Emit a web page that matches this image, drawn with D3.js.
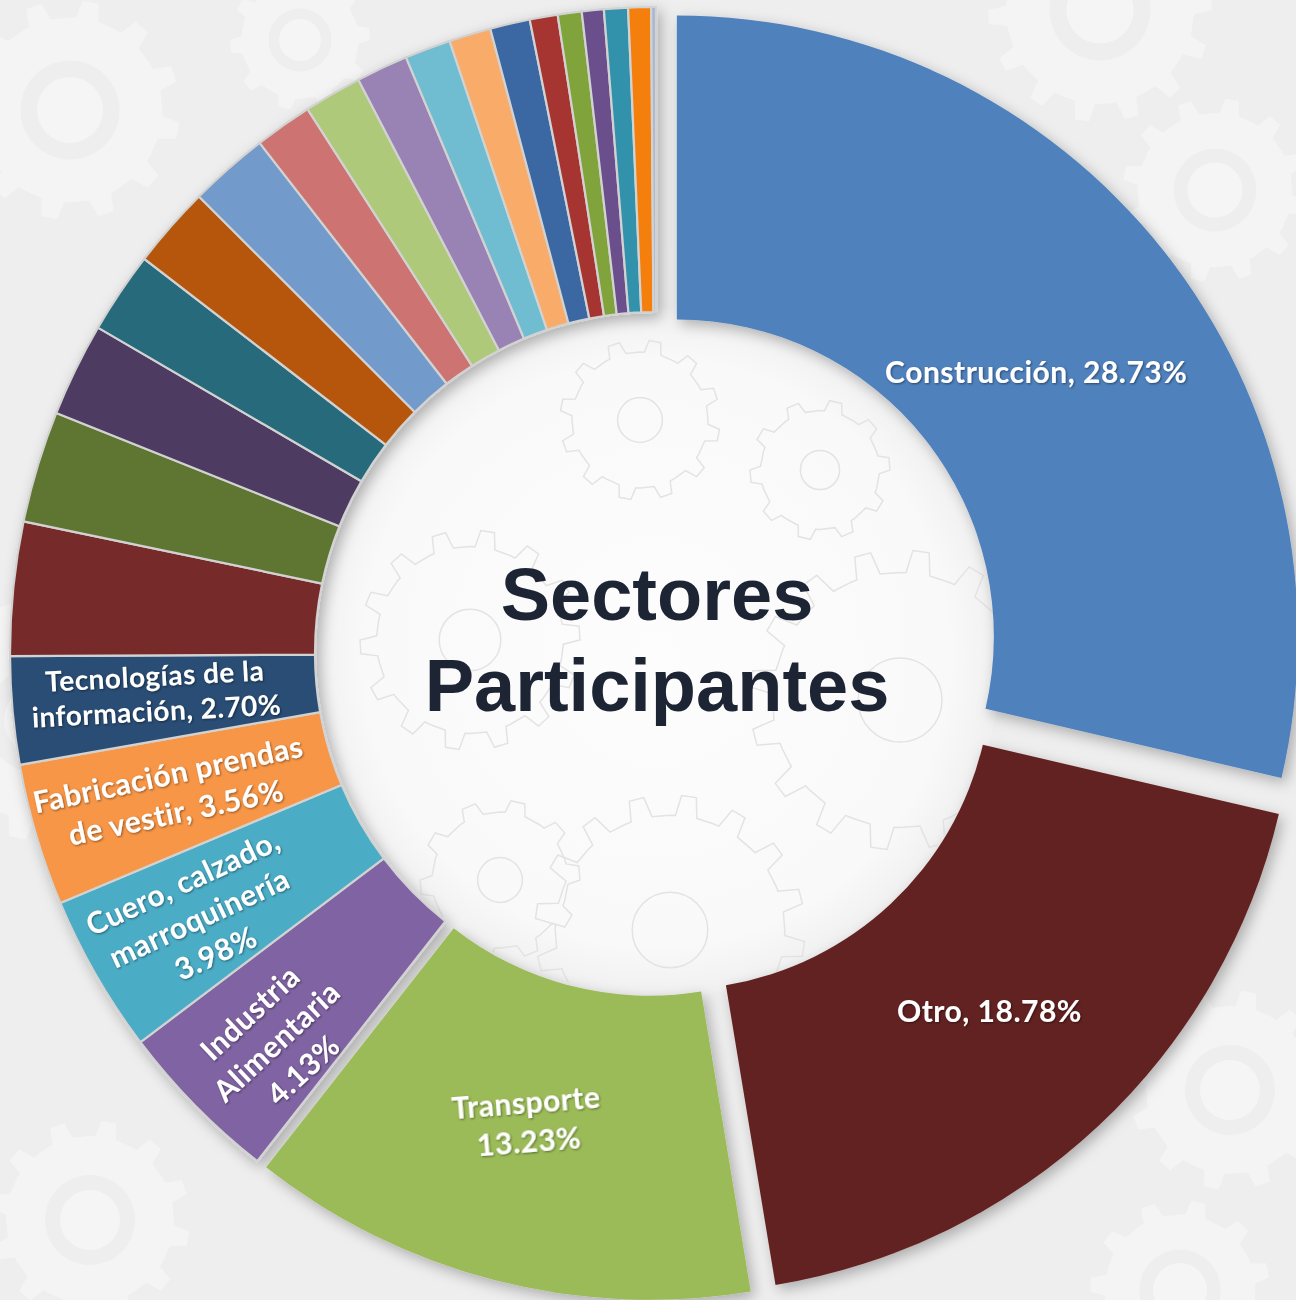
<!DOCTYPE html>
<html>
<head>
<meta charset="utf-8">
<script src="https://cdn.jsdelivr.net/npm/d3@7"></script>
<style>
  html, body { margin: 0; padding: 0; background: #eeeeee; }
  svg { display: block; }
</style>
</head>
<body>
<svg id="chart" width="1296" height="1300"></svg>
<script>
// ---- data -------------------------------------------------------------
const sectors = [
  "Construcción", "Otro", "Transporte", "Industria Alimentaria",
  "Cuero, calzado, marroquinería", "Fabricación prendas de vestir",
  "Tecnologías de la información",
  "Sector 8", "Sector 9", "Sector 10", "Sector 11", "Sector 12", "Sector 13",
  "Sector 14", "Sector 15", "Sector 16", "Sector 17", "Sector 18", "Sector 19",
  "Sector 20", "Sector 21", "Sector 22", "Sector 23", "Sector 24", "Sector 25"
];
const shares = [
  28.73, 18.78, 13.23, 4.13, 3.98, 3.56, 2.70,
  3.35, 2.80, 2.35, 2.05, 2.05, 2.00,
  1.45, 1.45, 1.30, 1.15, 1.05, 1.00,
  0.70, 0.60, 0.55, 0.60, 0.57, 0.12
];
const sliceColors = [
  "#4f81bd", "#632423", "#9bbb59", "#8064a2", "#4bacc6", "#f79646",
  "#2c4d75", "#772c2a", "#5f7530", "#4d3b62", "#276a7c", "#b65708",
  "#729aca", "#cd7371", "#afc97a", "#9983b5", "#6fbdd1", "#f9ab6b",
  "#3a67a3", "#a63533", "#80a33a", "#6b4f8c", "#3392ab", "#f57f10",
  "#a8b8cf"
];
const explodedSectors = ["Construcción", "Otro", "Transporte"];
const labelledSectors = [
  "Construcción", "Otro", "Transporte", "Industria Alimentaria",
  "Cuero, calzado, marroquinería", "Fabricación prendas de vestir",
  "Tecnologías de la información"
];
const centerTitle = ["Sectores", "Participantes"];

// ---- layout -----------------------------------------------------------
const W = 1296, H = 1300;
const cx = 656, cy = 653;
const ring = { outer: 646, inner: 341 };                   // regular slices
const ringOut = { outer: 621, inner: 317, offset: 26.6 };  // pulled-out slices

// label placement: radius from slice centre, angular shift (deg), rotation (deg),
// word index after which the name wraps, whether the value gets its own line,
// font size and line step
const labelLayout = {
  "Construcción":                   { r: 446, shift: 2.1,  rot: 0,    wrap: [],  own: false, size: 30, step: 39 },
  "Otro":                           { r: 463, shift: 0.2,  rot: 0,    wrap: [],  own: false, size: 30, step: 39 },
  "Transporte":                     { r: 460, shift: 1.0,  rot: -4.5, wrap: [],  own: true,  size: 30, step: 39 },
  "Industria Alimentaria":          { r: 543, shift: -1.2, rot: -43,  wrap: [1], own: true,  size: 30, step: 39 },
  "Cuero, calzado, marroquinería":  { r: 528, shift: -0.2, rot: -25,  wrap: [2], own: true,  size: 30, step: 39 },
  "Fabricación prendas de vestir":  { r: 504, shift: 0.2,  rot: -12,  wrap: [2], own: false, size: 30, step: 39 },
  "Tecnologías de la información":  { r: 502, shift: 0.5,  rot: -3,   wrap: [3], own: false, size: 28, step: 35 }
};

// ---- svg --------------------------------------------------------------
const svg = d3.select("#chart");
const defs = svg.append("defs");

const ringShadow = defs.append("filter").attr("id", "ringShadow")
  .attr("x", "-20%").attr("y", "-20%").attr("width", "140%").attr("height", "140%");
ringShadow.append("feDropShadow")
  .attr("dx", 4).attr("dy", 5).attr("stdDeviation", 7)
  .attr("flood-color", "#000").attr("flood-opacity", 0.28);

const textShadow = defs.append("filter").attr("id", "textShadow")
  .attr("x", "-10%").attr("y", "-30%").attr("width", "120%").attr("height", "160%");
textShadow.append("feDropShadow")
  .attr("dx", 1).attr("dy", 1).attr("stdDeviation", 0.8)
  .attr("flood-color", "#000").attr("flood-opacity", 0.45);

const holeGrad = defs.append("radialGradient").attr("id", "holeGrad");
holeGrad.append("stop").attr("offset", "0%").attr("stop-color", "#fdfdfd");
holeGrad.append("stop").attr("offset", "85%").attr("stop-color", "#f9f9f9");
holeGrad.append("stop").attr("offset", "100%").attr("stop-color", "#f0f0f0");

defs.append("clipPath").attr("id", "holeClip")
  .append("circle").attr("cx", cx).attr("cy", cy).attr("r", ring.inner);

svg.append("rect").attr("width", W).attr("height", H).attr("fill", "#eeeeee");

// decorative gear pattern in the background
function gearPath(r, teeth, depth) {
  const pts = [];
  const step = 2 * Math.PI / teeth;
  for (let i = 0; i < teeth; i++) {
    const a = i * step;
    pts.push([a, r - depth]);
    pts.push([a + step * 0.12, r - depth]);
    pts.push([a + step * 0.22, r]);
    pts.push([a + step * 0.50, r]);
    pts.push([a + step * 0.60, r - depth]);
  }
  return d3.lineRadial().curve(d3.curveLinearClosed)(pts);
}
const gearsOut = [
  [1100, 10, 112, 14], [1215, 190, 92, 12], [70, 110, 110, 12],
  [40, 720, 120, 12], [1230, 1090, 100, 12], [1180, 1290, 90, 11],
  [90, 1220, 100, 12], [300, 40, 70, 10]
];
const gOut = svg.append("g");
gearsOut.forEach(([x, y, r, n]) => {
  const g = gOut.append("g").attr("transform", `translate(${x},${y})`);
  g.append("path").attr("d", gearPath(r, n, r * 0.16)).attr("fill", "#f4f4f4");
  g.append("circle").attr("r", r * 0.45).attr("fill", "#eeeeee");
  g.append("circle").attr("r", r * 0.3).attr("fill", "#f5f5f5");
});

svg.append("circle").attr("cx", cx).attr("cy", cy).attr("r", ring.inner + 4)
  .attr("fill", "url(#holeGrad)");

const gearsIn = [
  [670, 930, 135, 16], [900, 700, 150, 16], [470, 640, 110, 14],
  [640, 420, 80, 12], [500, 880, 80, 10], [820, 470, 70, 10]
];
const gIn = svg.append("g").attr("clip-path", "url(#holeClip)");
gearsIn.forEach(([x, y, r, n]) => {
  const g = gIn.append("g").attr("transform", `translate(${x},${y})`)
    .attr("fill", "none").attr("stroke", "#e3e3e3").attr("stroke-width", 1.5);
  g.append("path").attr("d", gearPath(r, n, r * 0.15));
  g.append("circle").attr("r", r * 0.28);
});

// ---- doughnut ---------------------------------------------------------
const rows = sectors.map((s, i) => ({ sector: s, share: shares[i], color: sliceColors[i] }));
const pie = d3.pie().sort(null).value(d => d.share);
const arcs = pie(rows);

const arcRegular = d3.arc().innerRadius(ring.inner).outerRadius(ring.outer);
const arcPulled = d3.arc().innerRadius(ringOut.inner).outerRadius(ringOut.outer);

const isPulled = d => explodedSectors.includes(d.data.sector);
const mid = d => (d.startAngle + d.endAngle) / 2;
function sliceCentre(d) {
  if (!isPulled(d)) return [cx, cy];
  const a = mid(d);
  return [cx + ringOut.offset * Math.sin(a), cy - ringOut.offset * Math.cos(a)];
}

const ringG = svg.append("g").attr("filter", "url(#ringShadow)");
ringG.selectAll("path.slice")
  .data(arcs)
  .join("path")
  .attr("class", "slice")
  .attr("transform", d => `translate(${sliceCentre(d)})`)
  .attr("d", d => (isPulled(d) ? arcPulled : arcRegular)(d))
  .attr("fill", d => d.data.color)
  .attr("stroke", d => isPulled(d) ? "none" : "#d2d2d2")
  .attr("stroke-width", 2.2)
  .attr("stroke-linejoin", "round");

// ---- slice labels -----------------------------------------------------
const pct = d3.format(".2f");
function labelLines(d) {
  const cfg = labelLayout[d.data.sector];
  const words = d.data.sector.split(" ");
  const lines = [];
  let start = 0;
  cfg.wrap.forEach(b => { lines.push(words.slice(start, b).join(" ")); start = b; });
  lines.push(words.slice(start).join(" "));
  const value = pct(d.data.share) + "%";
  if (cfg.own) lines.push(value);
  else lines[lines.length - 1] += ", " + value;
  return lines;
}

const labelG = svg.append("g")
  .attr("font-family", "Lato, 'Open Sans', sans-serif")
  .attr("font-weight", 700)
  .attr("letter-spacing", 0.5)
  .attr("fill", "#ffffff")
  .attr("text-anchor", "middle")
  .attr("filter", "url(#textShadow)");

arcs.filter(d => labelledSectors.includes(d.data.sector)).forEach(d => {
  const cfg = labelLayout[d.data.sector];
  const [ox, oy] = sliceCentre(d);
  const a = mid(d) + cfg.shift * Math.PI / 180;
  const x = ox + cfg.r * Math.sin(a);
  const y = oy - cfg.r * Math.cos(a);
  const lines = labelLines(d);
  const g = labelG.append("g")
    .attr("transform", `translate(${x},${y}) rotate(${cfg.rot})`)
    .attr("font-size", cfg.size);
  lines.forEach((t, i) => {
    g.append("text")
      .attr("y", (i - (lines.length - 1) / 2) * cfg.step + cfg.size * 0.36)
      .text(t);
  });
});

// ---- centre title -----------------------------------------------------
const title = svg.append("g")
  .attr("font-family", "'Liberation Sans', Arial, sans-serif")
  .attr("font-weight", 700)
  .attr("font-size", 74)
  .attr("fill", "#1d2433")
  .attr("text-anchor", "middle");
title.selectAll("text").data(centerTitle).join("text")
  .attr("x", 657)
  .attr("y", (d, i) => 620 + i * 91)
  .text(d => d);
</script>
</body>
</html>
